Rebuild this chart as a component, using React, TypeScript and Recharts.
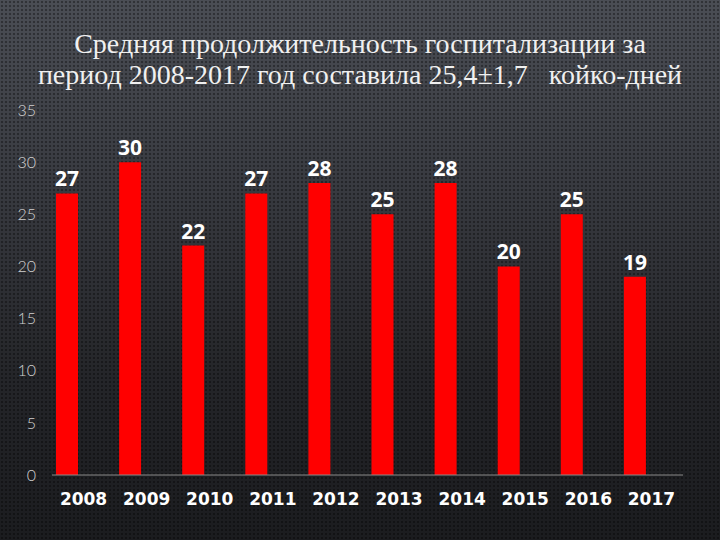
import { BarChart, Bar, XAxis, YAxis, LabelList } from 'recharts'

const years = ['2008', '2009', '2010', '2011', '2012', '2013', '2014', '2015', '2016', '2017']
const days = [27, 30, 22, 27, 28, 25, 28, 20, 25, 19]
const yTicks = [0, 5, 10, 15, 20, 25, 30, 35]
const titleLines = [
  'Средняя продолжительность госпитализации за',
  'период 2008-2017 год составила 25,4±1,7   койко-дней',
]

// second (empty) series slot keeps the bars left of the band centre, like the original
const data = years.map((year, i) => ({ year, value: days[i] }))

export default function App() {
  return (
    <div
      style={{
        position: 'fixed',
        top: 0,
        left: 0,
        width: 720,
        height: 540,
        backgroundColor: '#2c2d31',
        backgroundImage:
          'radial-gradient(circle, rgba(0,0,0,0.35) 1px, transparent 1.6px), linear-gradient(180deg, #4b4e55 0%, #383a40 35%, #242529 70%, #1b1c1f 100%)',
        backgroundSize: '4px 4px, 100% 100%',
        overflow: 'hidden',
      }}
    >
      <div
        style={{
          position: 'absolute',
          top: 28,
          left: 0,
          width: 720,
          textAlign: 'center',
          fontFamily: '"Liberation Serif", serif',
          fontSize: 28,
          lineHeight: '31px',
          color: '#f0f0f0',
          whiteSpace: 'pre',
        }}
      >
        {titleLines.map((line) => (
          <div key={line}>{line}</div>
        ))}
      </div>
      <BarChart
        width={720}
        height={540}
        data={data}
        margin={{ top: 110, right: 37, left: 0, bottom: 0 }}
        barGap={12}
        style={{ position: 'absolute', top: 0, left: 0 }}
      >
        <XAxis
          dataKey="year"
          height={65}
          axisLine={{ stroke: '#8a8a8a' }}
          tickLine={false}
          tickSize={0}
          tickMargin={18}
          tick={{ fill: '#ffffff', fontSize: 17, fontWeight: 700, fontFamily: '"DejaVu Sans", sans-serif' }}
        />
        <YAxis
          width={52}
          domain={[0, 35]}
          ticks={yTicks}
          axisLine={false}
          tickLine={false}
          tickSize={0}
          tickMargin={16}
          tick={{ fill: '#d0d0d0', fontSize: 16, fontWeight: 300, fontFamily: 'Lato, sans-serif' }}
        />
        <Bar dataKey="value" fill="#ff0000" barSize={22} isAnimationActive={false}>
          <LabelList
            dataKey="value"
            position="top"
            offset={7}
            fill="#ffffff"
            style={{ fontSize: 21, fontWeight: 700, fontFamily: '"Open Sans", sans-serif' }}
          />
        </Bar>
        <Bar dataKey="empty" fill="transparent" barSize={22} isAnimationActive={false} />
      </BarChart>
    </div>
  )
}
